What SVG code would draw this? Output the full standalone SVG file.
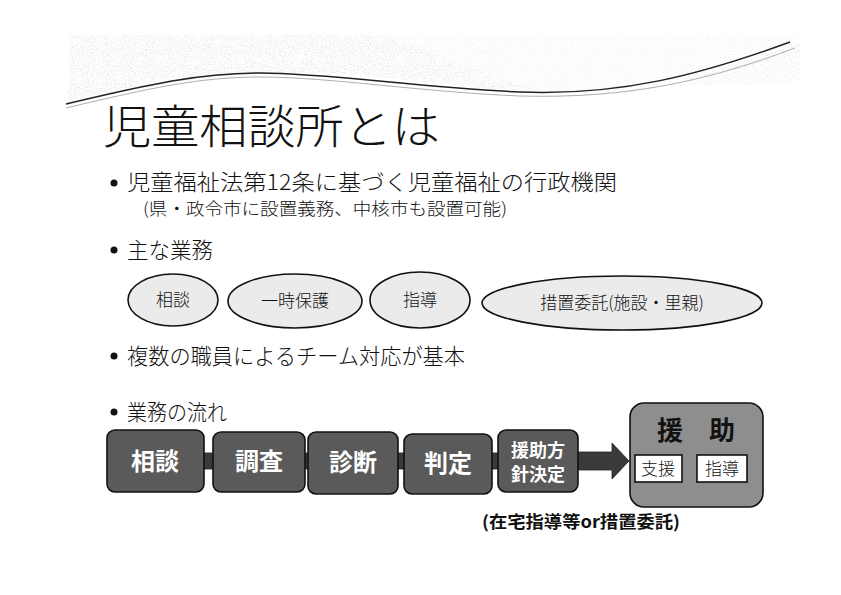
<svg xmlns="http://www.w3.org/2000/svg" width="841" height="595" viewBox="0 0 841 595">
<defs>
<style>
.jp{font-family:"Noto Sans CJK JP","Noto Sans",sans-serif;}
.title{font-size:46px;font-weight:300;fill:#111;}
.bul{font-size:22px;font-weight:300;fill:#111;}
.sub{font-size:17px;font-weight:300;fill:#111;}
.ell{fill:#ebebeb;stroke:#111;stroke-width:1.6;}
.etx{font-size:17px;font-weight:300;fill:#111;text-anchor:middle;}
.fbox{fill:#5a5a5a;stroke:#111;stroke-width:1.6;}
.ftx{font-size:24px;font-weight:bold;fill:#fff;text-anchor:middle;}
.conn{fill:#3a3a3a;stroke:#222;stroke-width:0.8;}
.wbox{fill:#fff;stroke:#111;stroke-width:1.6;}
</style>
<filter id="noise" x="0" y="0" width="100%" height="100%">
<feTurbulence type="fractalNoise" baseFrequency="0.95" numOctaves="2" seed="3" result="n"/>
<feColorMatrix in="n" type="matrix" values="0 0 0 0 0.6  0 0 0 0 0.6  0 0 0 0 0.6  0 0 0 -2.4 1.3" result="g"/>
<feComposite in="g" in2="SourceGraphic" operator="in"/>
</filter>
</defs>
<rect width="841" height="595" fill="#fff"/>
<g id="header">
<path d="M70,35 L385,35 C430,50 480,75 545,91 C450,90 380,72 300,73 C220,73 150,86 68,103 Z" fill="#fff" fill-opacity="0.6" filter="url(#noise)"/>
<path d="M385,35 L800,35 L800,55 C720,70 680,88 600,94 L545,91 C480,75 430,50 385,35 Z" fill="#fff" fill-opacity="0.28" filter="url(#noise)"/>
<path d="M700,76 C740,62 770,52 800,44 L800,80 C760,86 720,86 680,86 Z" fill="#fff" fill-opacity="0.4" filter="url(#noise)"/>
<path d="M66,104 C150,84 200,73 260,73 C330,73 420,88 520,92 C620,96 700,75 790,42" fill="none" stroke="#222" stroke-width="1.5"/>
<path d="M66,108 C150,88 200,77 260,77 C330,77 420,92 520,96 C630,99 710,80 795,48" fill="none" stroke="#999" stroke-width="0.8"/>
</g>
<g id="title"><text class="jp title" x="103" y="143" textLength="337" lengthAdjust="spacingAndGlyphs">児童相談所とは</text></g>
<g id="bullets">
<circle cx="114" cy="183" r="3.5" fill="#111"/>
<text class="jp bul" x="127" y="190" textLength="490" lengthAdjust="spacingAndGlyphs">児童福祉法第12条に基づく児童福祉の行政機関</text>
<text class="jp sub" x="143" y="215" textLength="364" lengthAdjust="spacingAndGlyphs">(県・政令市に設置義務、中核市も設置可能)</text>
<circle cx="114" cy="250" r="3.5" fill="#111"/>
<text class="jp bul" x="127" y="258" textLength="86" lengthAdjust="spacingAndGlyphs">主な業務</text>
<circle cx="114" cy="356" r="3.5" fill="#111"/>
<text class="jp bul" x="127" y="364" textLength="338" lengthAdjust="spacingAndGlyphs">複数の職員によるチーム対応が基本</text>
<circle cx="114" cy="412" r="3.5" fill="#111"/>
<text class="jp bul" x="127" y="420" textLength="100" lengthAdjust="spacingAndGlyphs">業務の流れ</text>
</g>
<g id="task-soudan"><ellipse class="ell" cx="173" cy="300" rx="45" ry="26"/><text class="jp etx" x="173" y="306">相談</text></g>
<g id="task-ichiji"><ellipse class="ell" cx="295" cy="301" rx="67" ry="27"/><text class="jp etx" x="295" y="307">一時保護</text></g>
<g id="task-shido"><ellipse class="ell" cx="420" cy="300" rx="50" ry="28"/><text class="jp etx" x="420" y="306">指導</text></g>
<g id="task-sochi"><ellipse class="ell" cx="622" cy="303" rx="140" ry="27"/><text class="jp etx" x="622" y="309">措置委託(施設・里親)</text></g>
<g id="connectors">
<rect class="conn" x="203" y="453" width="11" height="16"/>
<rect class="conn" x="304" y="453" width="5" height="16"/>
<rect class="conn" x="397" y="453" width="8" height="16"/>
<rect class="conn" x="491" y="453" width="8" height="16"/>
<path class="conn" d="M577,452 L612,452 L612,443 L629,461 L612,479 L612,470 L577,470 Z"/>
</g>
<g id="flow-soudan"><rect class="fbox" x="107" y="430" width="97" height="62" rx="8"/><text class="jp ftx" x="155" y="470">相談</text></g>
<g id="flow-chousa"><rect class="fbox" x="213" y="432" width="92" height="60" rx="8"/><text class="jp ftx" x="259" y="470">調査</text></g>
<g id="flow-shindan"><rect class="fbox" x="308" y="432" width="90" height="62" rx="8"/><text class="jp ftx" x="353" y="471">診断</text></g>
<g id="flow-hantei"><rect class="fbox" x="404" y="434" width="88" height="60" rx="8"/><text class="jp ftx" x="448" y="472">判定</text></g>
<g id="flow-houshin"><rect class="fbox" x="498" y="430" width="80" height="62" rx="8"/><text class="jp ftx" x="538" y="457" style="font-size:18px">援助方</text><text class="jp ftx" x="538" y="481" style="font-size:18px">針決定</text></g>
<g id="flow-enjo">
<rect x="630" y="403" width="133" height="104" rx="14" fill="#8e8e8e" stroke="#111" stroke-width="1.6"/>
<text class="jp" x="696" y="440" text-anchor="middle" style="font-size:26px;font-weight:bold;fill:#111">援　助</text>
<rect class="wbox" x="635" y="455" width="47" height="27"/>
<text class="jp" x="658" y="475" text-anchor="middle" style="font-size:17px;font-weight:300;fill:#111">支援</text>
<rect class="wbox" x="697" y="455" width="50" height="27"/>
<text class="jp" x="722" y="475" text-anchor="middle" style="font-size:17px;font-weight:300;fill:#111">指導</text>
</g>
<g id="caption"><text class="jp" x="482" y="528" textLength="198" lengthAdjust="spacingAndGlyphs" style="font-size:17px;font-weight:bold;fill:#111">(在宅指導等or措置委託)</text></g>
</svg>
